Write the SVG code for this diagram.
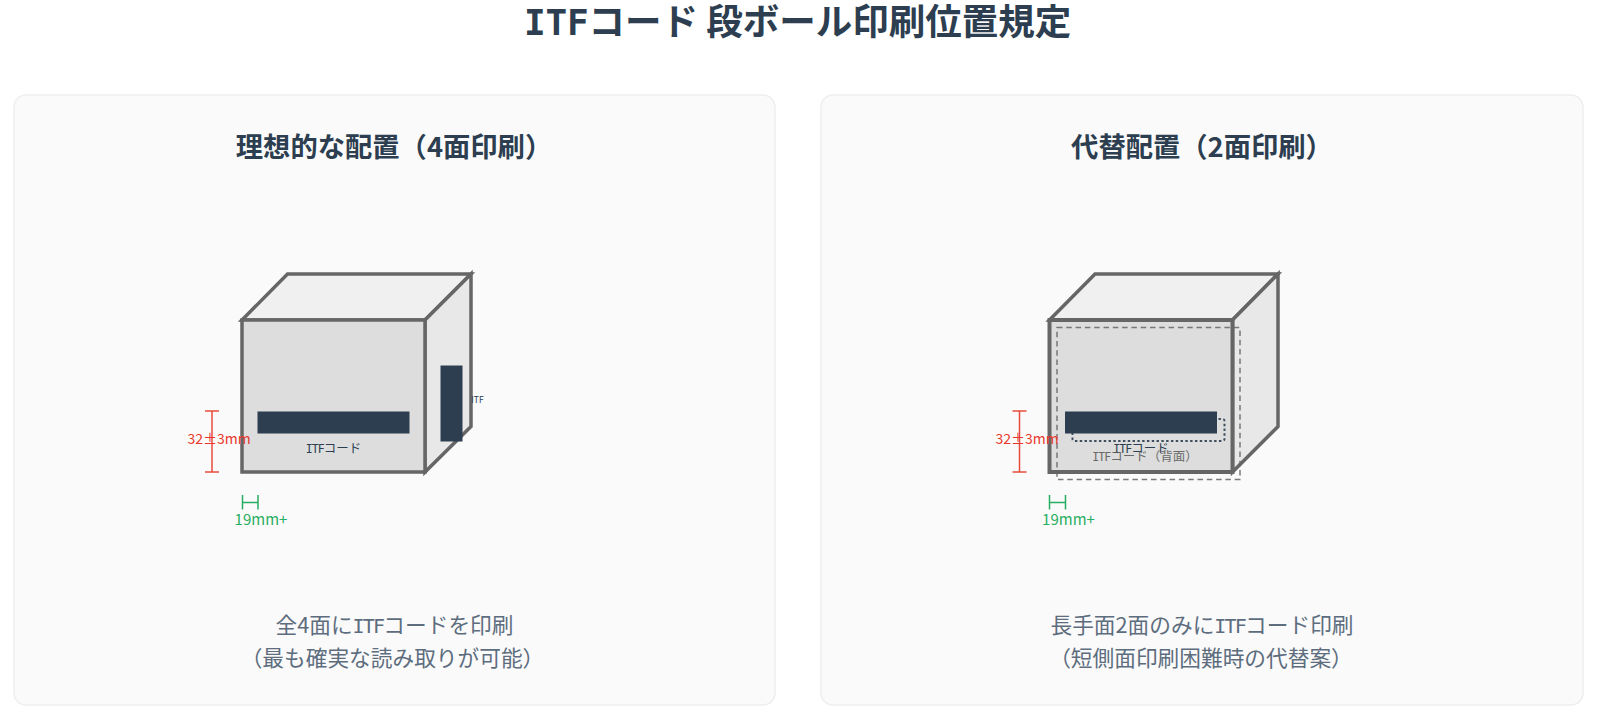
<svg xmlns="http://www.w3.org/2000/svg" width="1600" height="721" viewBox="0 0 1600 721">
<style>
text{font-family:"Noto Sans CJK JP","Noto Sans",sans-serif;text-anchor:middle}
.itf{font-family:"DejaVu Sans Mono","Noto Sans CJK JP",monospace}
.panel{fill:#fafafa;stroke:#eee;stroke-width:1.5}
.h1{font-size:36.500px;font-weight:700;fill:#2c3e50}
.h2{font-size:27.300px;font-weight:700;fill:#2c3e50}
.cap{font-size:21.700px;fill:#5d6d7e}
.box{stroke:#666;stroke-width:3.500}
.bar{fill:#2c3e50}
.lbl{font-size:12.500px;fill:#2c3e50}
.red{stroke:#e74c3c;stroke-width:1.500;fill:none}
.green{stroke:#27ae60;stroke-width:1.500;fill:none}
.rt{font-size:14px;fill:#e8372c}
.gt{font-size:15px;fill:#27ae60}
.back{fill:none;stroke:#666;stroke-width:1.500;stroke-dasharray:5.500 3.800}
.backbar{fill:none;stroke:#2c3e50;stroke-width:2;stroke-dasharray:2.400 2.400;stroke-linejoin:round}
</style>
<rect width="1600" height="721" fill="#fff"/>
<text class="h1" x="797.600" y="35"><tspan class="itf" font-size="36" letter-spacing="-0.200">ITF</tspan>コード 段ボール印刷位置規定</text>
<g id="panel-left">
<rect class="panel" x="14" y="95" width="761" height="610" rx="12"/>
<text class="h2" x="394" y="156.500">理想的な配置（4面印刷）</text>
<text class="cap" x="394.500" y="633">全4面に<tspan class="itf" font-size="20" letter-spacing="-1.800">ITF</tspan>コードを印刷</text>
<text class="cap" x="392.500" y="666">（最も確実な読み取りが可能）</text>
</g>
<g id="box-left">
<polygon class="box" fill="#f0f0f0" points="242,320 287.500,274 471,274 425,320"/>
<polygon class="box" fill="#e8e8e8" points="425,320 471,274 471,426.500 425,472"/>
<rect class="box" fill="#ddd" x="242" y="320" width="183" height="152"/>
<rect class="bar" x="257.500" y="411.500" width="152" height="22"/>
<text class="lbl" x="333.500" y="453"><tspan class="itf" font-size="11.500" letter-spacing="-1">ITF</tspan>コード</text>
<rect class="bar" x="440.500" y="365.500" width="22" height="76"/>
<text x="477.500" y="403" font-size="8.500" fill="#2c3e50">ITF</text>
</g>
<g id="dim-left">
<path class="red" d="M212 411V472M205 411H219M205 472H219"/>
<text class="rt" x="219" y="444">32±3mm</text>
<path class="green" d="M242.500 495V509.500M258 495V509.500M242.500 502.500H258"/>
<text class="gt" x="261" y="525">19mm+</text>
</g>
<g id="panel-right">
<rect class="panel" x="821" y="95" width="762" height="610" rx="12"/>
<text class="h2" x="1202" y="156.500">代替配置（2面印刷）</text>
<text class="cap" x="1202" y="633">長手面2面のみに<tspan class="itf" font-size="20" letter-spacing="-1.800">ITF</tspan>コード印刷</text>
<text class="cap" x="1201" y="666">（短側面印刷困難時の代替案）</text>
</g>
<g id="box-right">
<polygon class="box" fill="#f0f0f0" points="1049.500,320 1095,274 1278,274 1232.500,320"/>
<polygon class="box" fill="#e8e8e8" points="1232.500,320 1278,274 1278,426.500 1232.500,472"/>
<rect class="box" fill="#ddd" style="stroke-width:4" x="1049.500" y="320" width="183" height="152"/>
<text class="lbl" x="1141" y="453"><tspan class="itf" font-size="11.500" letter-spacing="-1">ITF</tspan>コード</text>
<g opacity="0.85">
<rect class="back" x="1057" y="327.500" width="183" height="152"/>
<text x="1145" y="461" font-size="12.500" fill="#555"><tspan class="itf" font-size="11.500" letter-spacing="-1">ITF</tspan>コード（背面）</text>
</g>
<rect class="backbar" x="1072.500" y="419" width="152" height="22" rx="2" opacity="0.9"/>
<rect class="bar" x="1065" y="411.500" width="152" height="22"/>
</g>
<g id="dim-right">
<path class="red" d="M1019.500 411V472M1012.500 411H1026.500M1012.500 472H1026.500"/>
<text class="rt" x="1027" y="444">32±3mm</text>
<path class="green" d="M1049.500 495V509.500M1065.500 495V509.500M1049.500 502.500H1065.500"/>
<text class="gt" x="1068.500" y="525">19mm+</text>
</g>
</svg>
